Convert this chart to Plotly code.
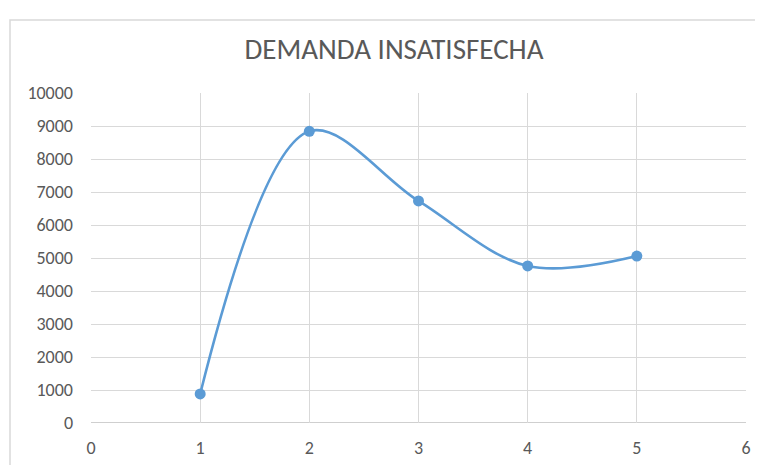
import plotly.graph_objects as go

x_vals = [1, 2, 3, 4, 5]
y_vals = [880, 8840, 6730, 4760, 5060]
title_text = "DEMANDA INSATISFECHA"
x_ticks = [0, 1, 2, 3, 4, 5, 6]
y_ticks = [0, 1000, 2000, 3000, 4000, 5000, 6000, 7000, 8000, 9000, 10000]
y_tick_text = [str(v) for v in y_ticks]

FONT = "Carlito, Liberation Sans Narrow, Arial Narrow, Lato, sans-serif"
GRAY = "#595959"
BLUE = "#5b9bd5"

fig = go.Figure()
fig.add_trace(go.Scatter(
    x=x_vals, y=y_vals, mode="lines+markers",
    line=dict(color=BLUE, width=2.6, shape="spline", smoothing=1.0),
    marker=dict(color=BLUE, size=11),
    showlegend=False,
))

OFF = 8  # page body margin
W, H = 763 - OFF, 465 - OFF
L, R, T, B = 91 - OFF, 17, 93 - OFF, 42
pw, ph = W - L - R, H - T - B

fig.update_layout(
    width=W, height=H,
    margin=dict(l=L, r=R, t=T, b=B, autoexpand=False),
    paper_bgcolor="white", plot_bgcolor="white",
    title=dict(text=title_text, x=(394 - OFF) / W, xanchor="center",
               y=1 - (49 - OFF) / H, yanchor="middle",
               font=dict(family=FONT, size=29, color=GRAY, weight=300)),
    font=dict(family=FONT, color=GRAY),
    xaxis=dict(range=[0, 6], tickvals=x_ticks, showgrid=True, gridcolor="#d9d9d9", gridwidth=1,
               zeroline=False, showline=False, ticks="", ticklabelstandoff=12, automargin=False,
               tickfont=dict(family=FONT, size=18, color=GRAY), fixedrange=True),
    yaxis=dict(range=[0, 10000], tickvals=y_ticks, ticktext=y_tick_text, showgrid=True,
               gridcolor="#d9d9d9", gridwidth=1, automargin=False,
               zeroline=False, showline=False, ticks="", ticklabelstandoff=17,
               tickfont=dict(family=FONT, size=18, color=GRAY), fixedrange=True),
    shapes=[
        dict(type="line", xref="paper", yref="y", x0=0, x1=1, y0=0, y1=0,
             line=dict(color="#bfbfbf", width=1.5), layer="below"),
        dict(type="rect", xref="paper", yref="paper",
             x0=(10 - 91) / pw, x1=(780 - 91) / pw,
             y0=(423 - 480) / ph, y1=(423 - 20) / ph,
             line=dict(color="#d9d9d9", width=1.5), fillcolor="rgba(0,0,0,0)", layer="below"),
    ],
)

fig.write_html("out.html")
